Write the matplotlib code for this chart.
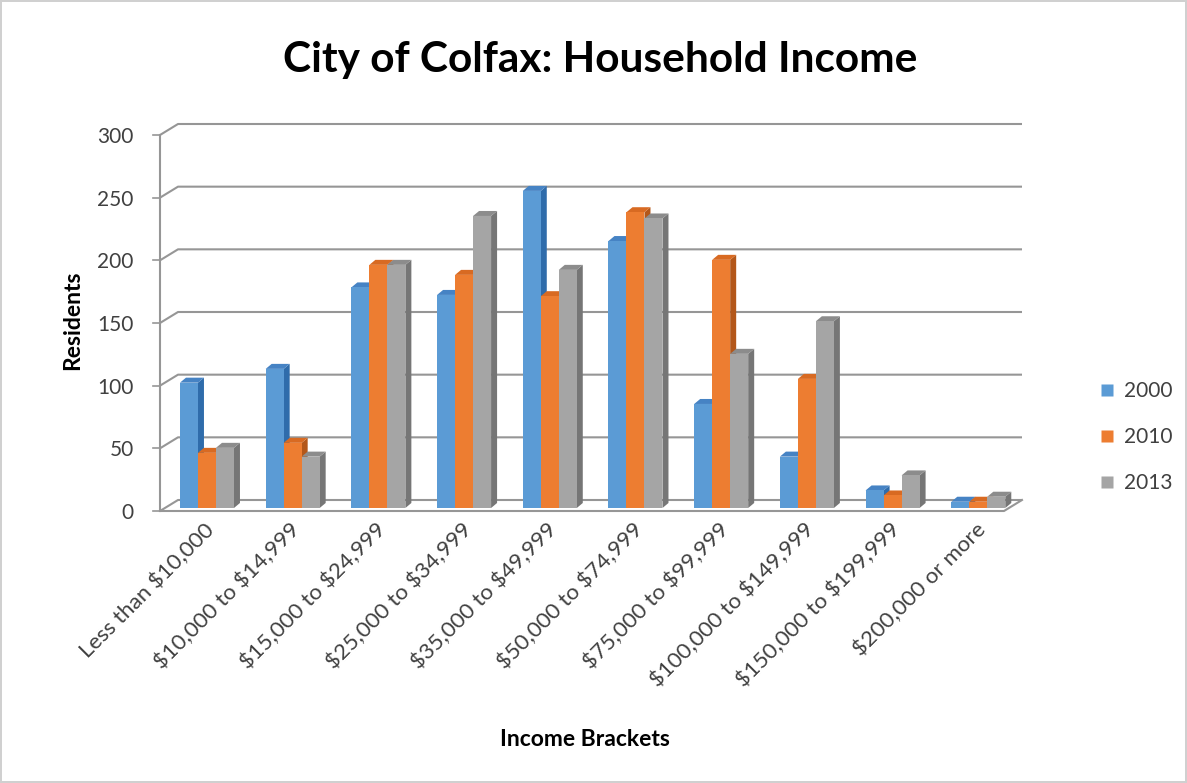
import matplotlib
matplotlib.use("Agg")
import matplotlib.pyplot as plt
from matplotlib.patches import Polygon, Rectangle
from matplotlib.lines import Line2D
import numpy as np

plt.rcParams['font.family'] = ['Lato', 'DejaVu Sans']
plt.rcParams['text.parse_math'] = False

brackets = ["Less than $10,000", "$10,000 to $14,999", "$15,000 to $24,999",
            "$25,000 to $34,999", "$35,000 to $49,999", "$50,000 to $74,999",
            "$75,000 to $99,999", "$100,000 to $149,999", "$150,000 to $199,999",
            "$200,000 or more"]
years = ["2000", "2010", "2013"]
y2000 = [100, 111, 176, 170, 253, 213, 83, 41, 14, 5]
y2010 = [44, 52, 194, 186, 169, 236, 198, 103, 10, 5]
y2013 = [48, 41, 194, 233, 190, 231, 123, 149, 26, 9]
yticks = [0, 50, 100, 150, 200, 250, 300]

front_cols = ["#5B9BD5", "#ED7D31", "#A5A5A5"]
side_cols = ["#2F6CAB", "#B3571A", "#767676"]
top_cols = ["#4683C4", "#D86A22", "#8C8C8C"]

W, H = 1187, 783
fig = plt.figure(figsize=(W / 100, H / 100), dpi=100)
fig.patch.set_edgecolor("#D0D0D0")
fig.patch.set_linewidth(1.5)

# axes box = front plane of the 3D plot, in pixels
L, R, T, B = 160, 1004, 135, 511
ax = fig.add_axes([L / W, 1 - B / H, (R - L) / W, (B - T) / H])
x0, x1 = -0.513, 9.335
y0, y1 = 0, 300
ax.set_xlim(x0, x1)
ax.set_ylim(y0, y1)
for s in ax.spines.values():
    s.set_visible(False)

sx = (R - L) / (x1 - x0)   # px per x unit
sy = (B - T) / (y1 - y0)   # px per y unit

def px(dx, dy):
    return dx / sx, dy / sy

# depth of the floor/back wall, and bar depth
wx, wy = px(18, 11)
bx, by = px(3, 3)
dx, dy = px(6, 5)

grid_c = "#969696"
# back wall gridlines with diagonal on the side wall
for v in yticks:
    ax.plot([x0, x0 + wx, x1 + wx], [v, v + wy, v + wy], color=grid_c, lw=1.5,
            clip_on=False, zorder=1, solid_capstyle="butt")
    ax.plot([x0 - 7 / sx, x0], [v, v], color=grid_c, lw=1.2, clip_on=False, zorder=1)
# front-left vertical edge and floor
ax.plot([x0, x0], [0, 300], color=grid_c, lw=1.5, clip_on=False, zorder=1)
ax.plot([x0, x1, x1 + wx], [0, 0, wy], color=grid_c, lw=1.5, clip_on=False, zorder=1)

bw = 18 / sx
series = [y2000, y2010, y2013]
for i in range(len(brackets)):
    for k, vals in enumerate(series):
        h = vals[i]
        xl = i - 1.5 * bw + k * bw + bx
        xr = xl + bw
        b0 = by
        z = 3 + i * 3 + k
        ax.add_patch(Polygon([(xr, b0), (xr + dx, b0 + dy), (xr + dx, b0 + h + dy), (xr, b0 + h)],
                             closed=True, facecolor=side_cols[k], edgecolor="none",
                             zorder=z, clip_on=False))
        ax.add_patch(Polygon([(xl, b0 + h), (xr, b0 + h), (xr + dx, b0 + h + dy), (xl + dx, b0 + h + dy)],
                             closed=True, facecolor=top_cols[k], edgecolor="none",
                             zorder=z, clip_on=False))
        ax.add_patch(Rectangle((xl, b0), bw, h, facecolor=front_cols[k], edgecolor="none",
                               zorder=z + 0.5, clip_on=False))

txt_c = "#404040"
ax.set_yticks(yticks)
ax.set_yticklabels([str(v) for v in yticks], fontsize=15, color=txt_c)
ax.tick_params(axis="y", length=0, pad=19)
ax.set_xticks(np.arange(len(brackets)))
ax.set_xticklabels(brackets, rotation=45, ha="right", rotation_mode="anchor",
                   fontsize=16, color=txt_c)
ax.tick_params(axis="x", length=0, pad=6)

fig.text(73 / W, 1 - 320 / H, "Residents", ha="center", va="center", rotation=90,
         fontsize=16.5, fontweight="bold", color="#000000")
fig.text(585 / W, 1 - 740 / H, "Income Brackets", ha="center", va="center",
         fontsize=16.5, fontweight="bold", color="#000000")
fig.text(600 / W, 1 - 60 / H, "City of Colfax: Household Income", ha="center", va="center",
         fontsize=30.5, fontweight="bold", color="#000000")

handles = [Line2D([], [], marker="s", linestyle="none", markersize=9,
                  markerfacecolor=c, markeredgecolor="none") for c in front_cols]
fig.legend(handles, years, loc="center left", bbox_to_anchor=(1078 / W, 1 - 437 / H),
           frameon=False, fontsize=15, labelcolor=txt_c, handletextpad=0.3,
           labelspacing=1.25, handlelength=1.0)

fig.savefig("out.png", dpi=100)
